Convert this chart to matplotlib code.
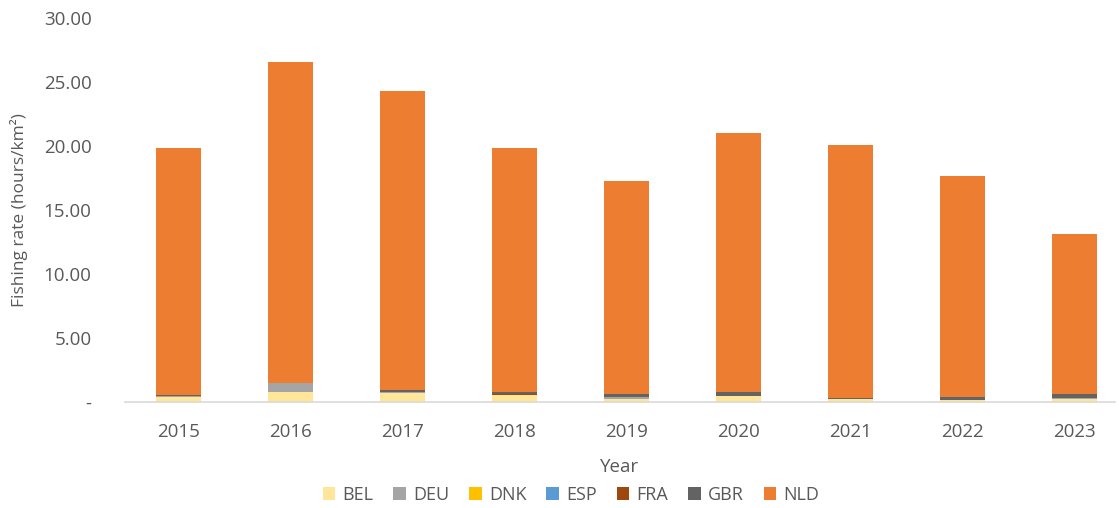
import numpy as np
import matplotlib.pyplot as plt

plt.rcParams['font.family'] = ['Open Sans', 'DejaVu Sans']

years = ['2015', '2016', '2017', '2018', '2019', '2020', '2021', '2022', '2023']
totals = [19.85, 26.60, 24.30, 19.85, 17.25, 21.00, 20.08, 17.65, 13.10]

# smaller national contributions (hours/km2)
bel = [0.38, 0.78, 0.72, 0.52, 0.22, 0.47, 0.20, 0.13, 0.21]
deu = [0.10, 0.72, 0.05, 0.03, 0.15, 0.03, 0.05, 0.03, 0.13]
dnk = [0.00, 0.00, 0.00, 0.00, 0.00, 0.00, 0.00, 0.00, 0.00]
esp = [0.00, 0.00, 0.00, 0.00, 0.00, 0.00, 0.00, 0.00, 0.00]
fra = [0.00, 0.00, 0.05, 0.10, 0.00, 0.00, 0.00, 0.00, 0.00]
gbr = [0.03, 0.02, 0.15, 0.10, 0.22, 0.25, 0.05, 0.26, 0.26]
nld = [t - sum(o) for t, *o in zip(totals, bel, deu, dnk, esp, fra, gbr)]

series = [('BEL', bel, '#FFE699'), ('DEU', deu, '#A5A5A5'), ('DNK', dnk, '#FFC000'),
          ('ESP', esp, '#5B9BD5'), ('FRA', fra, '#9E480E'), ('GBR', gbr, '#636363'),
          ('NLD', nld, '#ED7D31')]

fig = plt.figure(figsize=(11.19, 5.08), dpi=100)
ax = fig.add_axes([125 / 1119, 1 - 402 / 508, 990 / 1119, 384 / 508])

x = np.arange(len(years))
bottom = np.zeros(len(years))
for name, vals, color in series:
    ax.bar(x, vals, 0.4, bottom=bottom, color=color, label=name)
    bottom += np.array(vals)

txt = '#595959'
ax.set_xlim(-0.48, 8.36)
ax.set_ylim(0, 30)
ax.set_yticks(np.arange(0, 31, 5))
ax.set_yticklabels(['-'] + [f'{v:.2f}' for v in np.arange(5, 31, 5)])
ax.set_xticks(x)
ax.set_xticklabels(years)
ax.tick_params(length=0, labelsize=13.5, colors=txt)
ax.tick_params(axis='x', pad=15)
ax.tick_params(axis='y', pad=24)
for s in ['top', 'right', 'left']:
    ax.spines[s].set_visible(False)
ax.spines['bottom'].set_color('#D9D9D9')
ax.spines['bottom'].set_linewidth(1.2)

ax.set_xlabel('Year', fontsize=13.5, color=txt, labelpad=12)
ax.set_ylabel('Fishing rate (hours/km²)', fontsize=12.5, color=txt)
ax.yaxis.set_label_coords(-97 / 990, 0.5)

ax.legend(loc='center', bbox_to_anchor=(446 / 990, -93 / 384), ncol=7, frameon=False,
          fontsize=13, labelcolor=txt, handlelength=0.7, handleheight=0.7,
          handletextpad=0.4, columnspacing=1.1)

fig.savefig('out.png', dpi=100)
